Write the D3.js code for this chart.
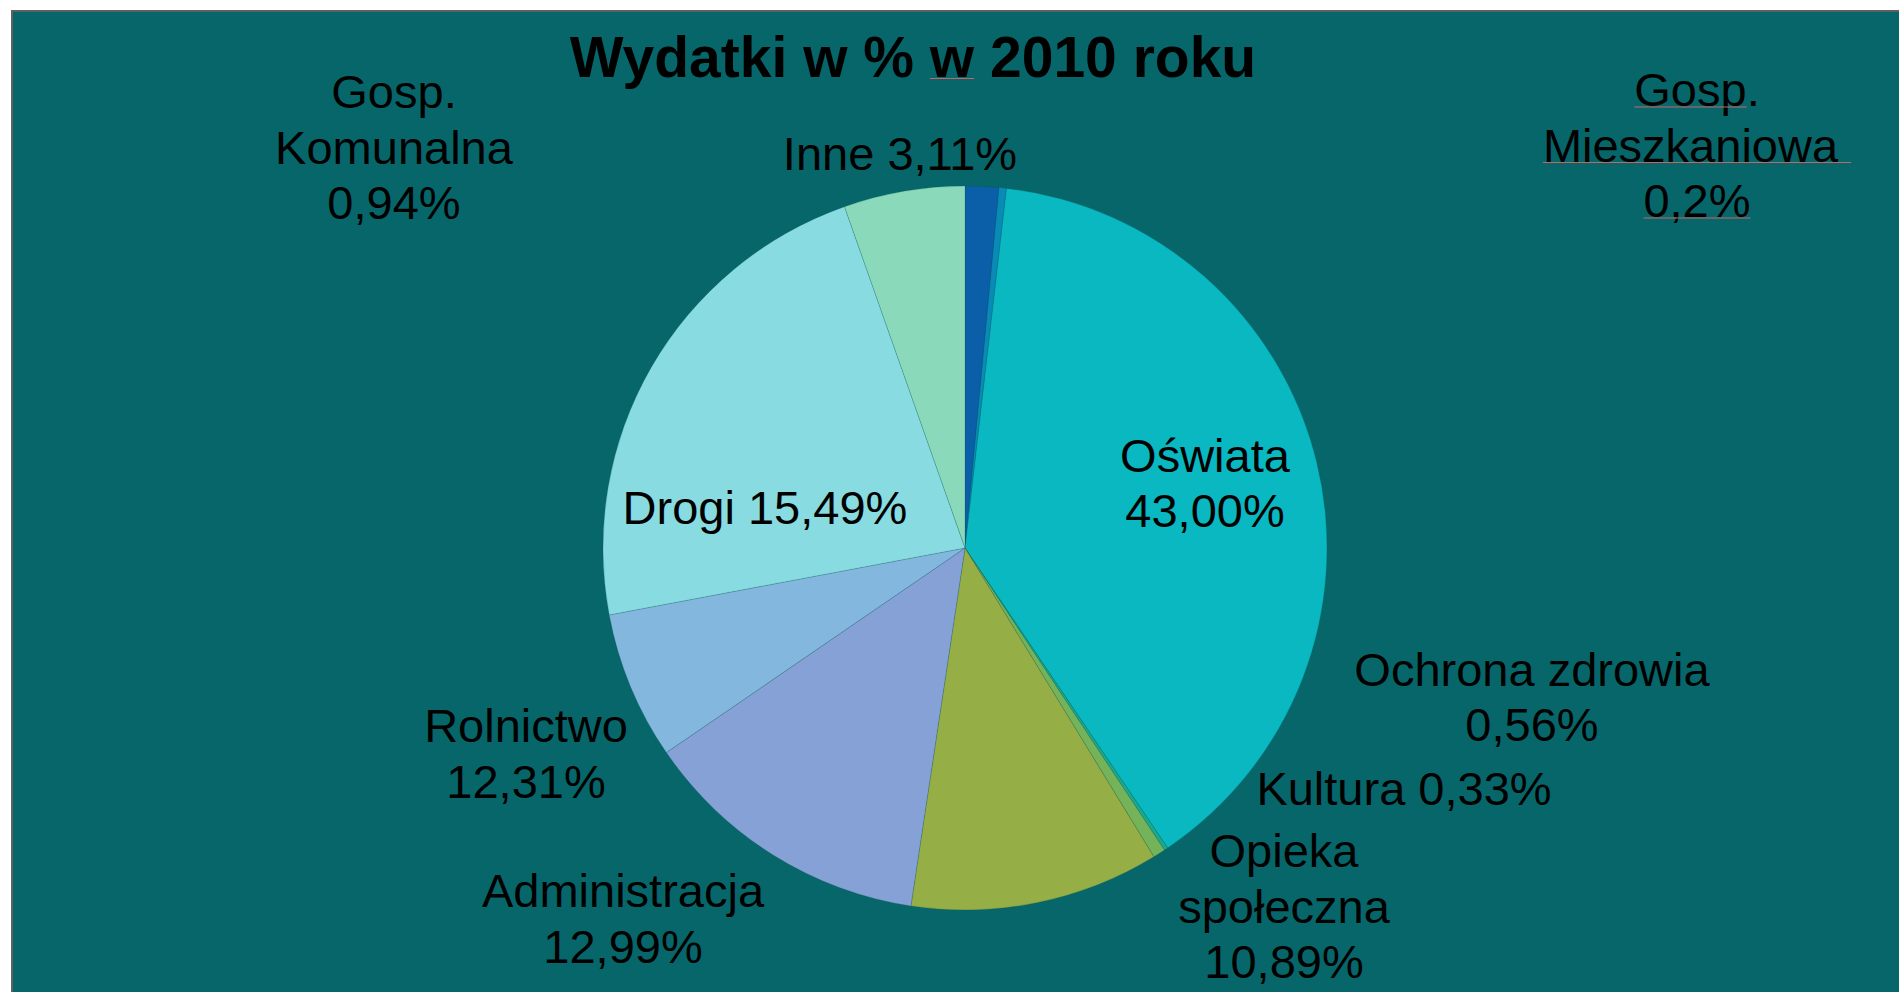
<!DOCTYPE html>
<meta charset="utf-8">
<script src="https://cdn.jsdelivr.net/npm/d3@7"></script>
<style>
body { margin: 0; background: #fff; }
text {
  font-family: "Liberation Sans", Arial, sans-serif;
  fill: #000;
  white-space: pre;
}
.lbl { font-size: 47px; }
.title { font-size: 57px; font-weight: bold; }
</style>
<body>
<script>

// slices in data order, clockwise from 12 o'clock
var categories = ["Gosp. Komunalna", "Gosp. Mieszkaniowa", "Oświata", "Ochrona zdrowia", "Kultura",
                  "Opieka społeczna", "Administracja", "Rolnictwo", "Drogi", "Inne"];
// share of the circle as drawn in the picture (%)
var sliceShares = [1.5, 0.33, 38.7, 0.17, 0.55, 11.12, 13.05, 6.6, 22.55, 5.4];
// label texts as typed on the chart
var labelLines = [
  ["Gosp.", "Komunalna", "0,94%"],
  ["Gosp.", "Mieszkaniowa ", "0,2%"],
  ["Oświata", "43,00%"],
  ["Ochrona zdrowia", "0,56%"],
  ["Kultura 0,33%"],
  ["Opieka", "społeczna", "10,89%"],
  ["Administracja", "12,99%"],
  ["Rolnictwo", "12,31%"],
  ["Drogi 15,49%"],
  ["Inne 3,11%"]
];
var sliceColors = ["#0b5ea8", "#0a8ab6", "#09b8c0", "#1aa98c", "#74b35a",
                   "#95ae45", "#86a1d5", "#84b7de", "#88dbe1", "#89d9ba"];

var title = "Wydatki w % w 2010 roku";

var width = 1899,
    height = 992,
    cx = 965,
    cy = 548,
    radius = 362,
    lineH = 55.5;

// label anchor: centre x, first baseline y
var labelPos = [
  [394, 108], [1697, 106], [1205, 471.5], [1532, 685.5], [1404, 805],
  [1284, 867], [623, 907], [526, 742], [765, 524], [900, 169.5]
];

var svg = d3.select("body").append("svg")
    .attr("width", width)
    .attr("height", height);

svg.append("rect")
    .attr("x", 12)
    .attr("y", 11)
    .attr("width", width + 20)
    .attr("height", height + 20)
    .attr("fill", "#07666a")
    .attr("stroke", "#606060")
    .attr("stroke-width", 2);

var data = categories.map(function(c, i) {
  return {name: c, value: sliceShares[i], color: sliceColors[i], lines: labelLines[i], pos: labelPos[i]};
});

var pie = d3.pie()
    .sort(null)
    .value(function(d) { return d.value; });

var arc = d3.arc()
    .innerRadius(0)
    .outerRadius(radius);

var g = svg.append("g")
    .attr("transform", "translate(" + cx + "," + cy + ")");

g.selectAll("path")
    .data(pie(data))
    .enter().append("path")
    .attr("d", arc)
    .attr("fill", function(d) { return d.data.color; })
    .attr("stroke", "rgba(0,70,70,0.22)")
    .attr("stroke-width", 0.8);

// labels
var lab = svg.append("g").selectAll("text")
    .data(data)
    .enter().append("text")
    .attr("class", "lbl")
    .attr("text-anchor", "middle");

lab.each(function(d) {
  var t = d3.select(this);
  d.lines.forEach(function(line, k) {
    t.append("tspan")
        .attr("x", d.pos[0])
        .attr("y", d.pos[1] + k * lineH)
        .text(line);
  });
});

// title
var titleNode = svg.append("text")
    .attr("class", "title")
    .attr("x", 913)
    .attr("y", 77)
    .attr("text-anchor", "middle")
    .text(title);

// spell-check underlines
function underline(node, from, to, y) {
  var a = node.getExtentOfChar(from),
      b = node.getExtentOfChar(to);
  svg.append("line")
      .attr("x1", a.x)
      .attr("x2", b.x + b.width)
      .attr("y1", y)
      .attr("y2", y)
      .attr("stroke", "#c06868")
      .attr("stroke-width", 1.2);
}

underline(titleNode.node(), 12, 12, 78.5);

var tspans = lab.filter(function(d) { return d.name === "Gosp. Mieszkaniowa"; }).selectAll("tspan").nodes();
underline(tspans[0], 0, 3, 107);
underline(tspans[1], 0, 12, 162.5);
underline(tspans[2], 0, 3, 218);

</script>
</body>
